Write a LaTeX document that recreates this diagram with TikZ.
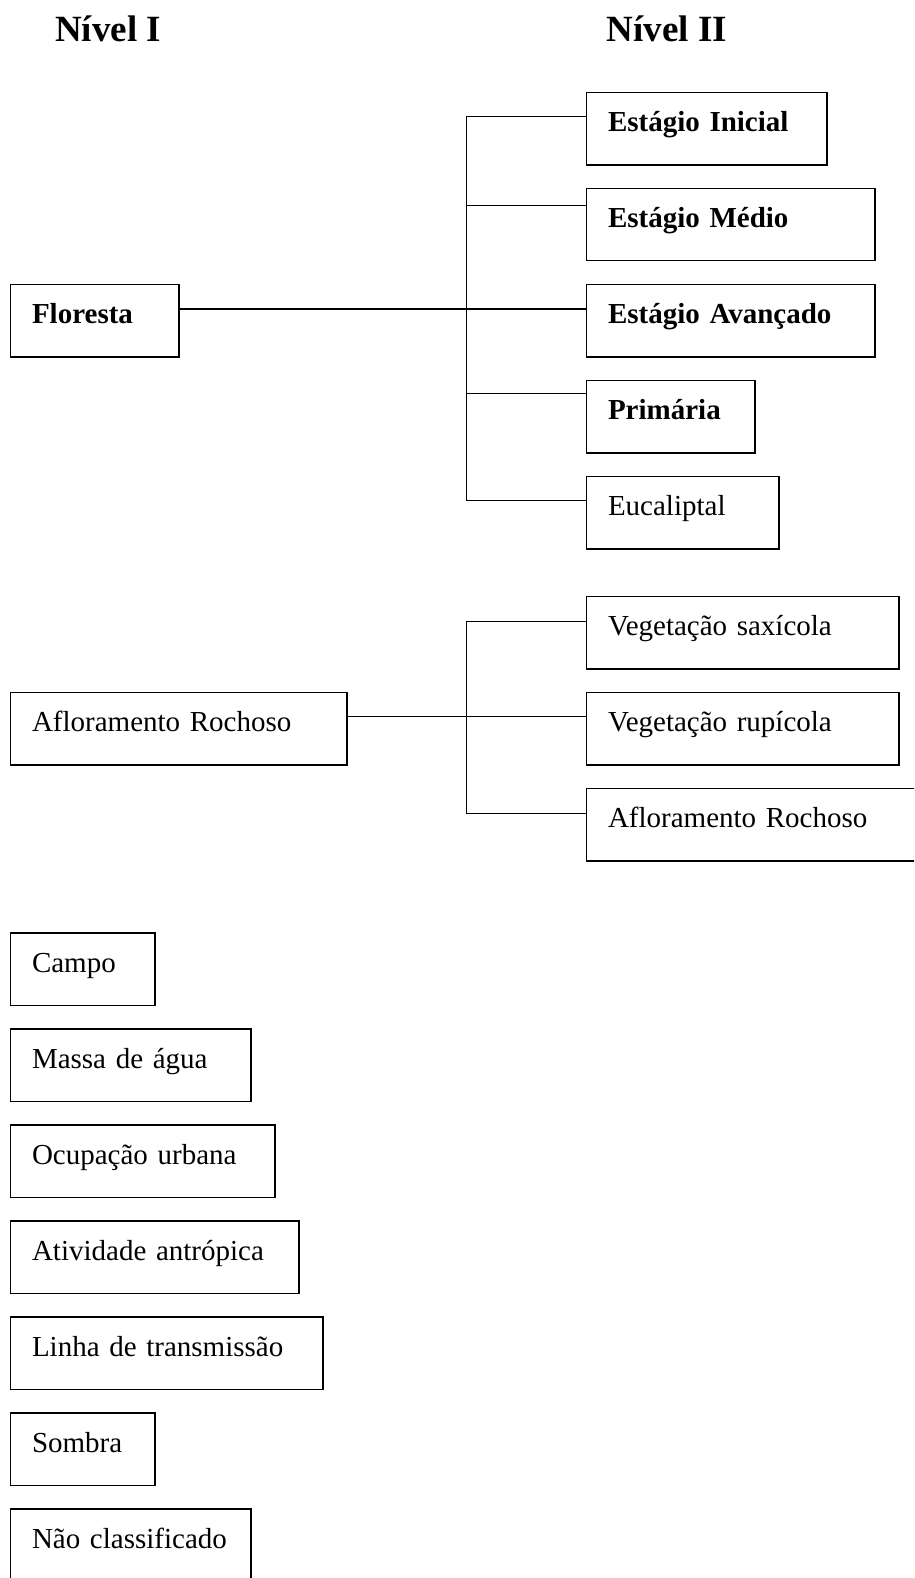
\documentclass[tikz,border=0pt]{standalone}
\usepackage{fontspec}
\setmainfont{Liberation Serif}
\usetikzlibrary{calc}
\tikzset{
  bx/.style={draw, line width=1.4pt, rectangle, anchor=north west, outer sep=0pt,
    inner xsep=21.5pt, inner ysep=0pt, text height=39pt, text depth=33.3pt,
    align=left, font=\fontsize{29}{34}\selectfont, text width=#1},
  bbx/.style={bx=#1, font=\fontsize{29}{34}\selectfont\bfseries},
  conn/.style={line width=1.4pt},
  lvl/.style={anchor=base west, inner sep=0pt, font=\fontsize{37}{44}\selectfont\bfseries}
}
\begin{document}
\begin{tikzpicture}[x=1pt,y=-1pt]
\path[use as bounding box] (0,0) rectangle (914,1578);
\clip (0,0) rectangle (914,1578);

% headings
\node[lvl] (n1) at (55,42) {Nível I};
\node[lvl] (n2) at (606.7,42) {Nível II};

% Floresta group
\node[bbx=125.5pt] (flo) at (10.5,284.7) {Floresta};
\node[bbx=197.5pt] (ini) at (586.5,92.7) {Estágio Inicial};
\node[bbx=245.5pt] (med) at (586.5,188.5) {Estágio Médio};
\node[bbx=245.5pt] (ava) at (586.5,284.7) {Estágio Avançado};
\node[bbx=125.5pt] (pri) at (586.5,380.7) {Primária};
\node[bx=149.5pt] (euc) at (586.5,476.7) {Eucaliptal};

\coordinate (ta) at (466.5,116.7);
\coordinate (tm) at (466.5,205.7);
\coordinate (tf) at (466.5,309);
\coordinate (tp) at (466.5,393.3);
\coordinate (tb) at (466.5,500.7);

\draw[conn] (ini.west |- ta) -- (ta) -- (tb) -- (euc.west |- tb);
\draw[conn] (tm) -- (med.west |- tm);
\draw[conn] (flo.east |- tf) -- (ava.west |- tf);
\draw[conn] (tp) -- (pri.west |- tp);

% Afloramento group
\node[bx=293.5pt] (afl) at (10.5,692.7) {Afloramento Rochoso};
\node[bx=269.5pt] (sax) at (586.5,596.7) {Vegetação saxícola};
\node[bx=269.5pt] (rup) at (586.5,692.7) {Vegetação rupícola};
\node[bx=297.5pt] (afr) at (586.5,788.7) {Afloramento Rochoso};

\coordinate (sa) at (466.5,621.7);
\coordinate (sr) at (466.5,716.7);
\coordinate (sb) at (466.5,813.3);

\draw[conn] (sax.west |- sa) -- (sa) -- (sb) -- (afr.west |- sb);
\draw[conn] (afl.east |- sr) -- (rup.west |- sr);

% other classes
\node[bx=101.5pt] (cam) at (10.5,933) {Campo};
\node[bx=197.5pt] (mas) at (10.5,1029) {Massa de água};
\node[bx=221.5pt] (ocu) at (10.5,1125) {Ocupação urbana};
\node[bx=245.5pt] (ati) at (10.5,1221) {Atividade antrópica};
\node[bx=269.5pt] (lin) at (10.5,1317) {Linha de transmissão};
\node[bx=101.5pt] (som) at (10.5,1413) {Sombra};
\node[bx=197.5pt] (nao) at (10.5,1509) {Não classificado};
\end{tikzpicture}
\end{document}
